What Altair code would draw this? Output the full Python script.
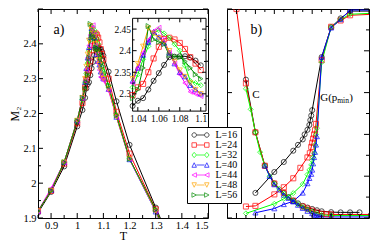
import altair as alt
import pandas as pd

FONT = "Liberation Serif"

L_LABELS = ["L=16", "L=24", "L=32", "L=40", "L=44", "L=48", "L=56"]
L_COLORS = ["#000000", "#ff0000", "#00ff00", "#0000ff", "#ff00ff", "#ffa500", "#008b00"]
L_SHAPES = ["circle", "square", "diamond", "triangle-up", "triangle-left", "triangle-down", "triangle-right"]

# ---------------- panel a) : M2 versus T ----------------
T_A = [0.85, 0.9, 0.95, 1.0, 1.02, 1.03, 1.035, 1.04, 1.045, 1.05, 1.055, 1.06, 1.065,
       1.07, 1.075, 1.08, 1.085, 1.09, 1.095, 1.1, 1.12, 1.15, 1.2, 1.3, 1.4]
M2_L16 = [1.915, 1.975, 2.048, 2.163, 2.21, 2.245, 2.272, 2.284, 2.29, 2.31, 2.33, 2.348, 2.367,
          2.385, 2.386, 2.387, 2.387, 2.384, 2.377, 2.366, 2.32, 2.235, 2.11, 1.93, 1.76]
M2_L24 = [1.92, 1.978, 2.056, 2.172, 2.23, 2.275, 2.297, 2.315, 2.323, 2.35, 2.382, 2.409, 2.427,
          2.43, 2.426, 2.418, 2.404, 2.385, 2.37, 2.355, 2.30, 2.205, 2.085, 1.925, 1.75]
M2_L32 = [1.92, 1.98, 2.06, 2.18, 2.24, 2.29, 2.315, 2.345, 2.38, 2.41, 2.44, 2.448, 2.44,
          2.43, 2.415, 2.40, 2.365, 2.33, 2.325, 2.32, 2.28, 2.195, 2.07, 1.922, 1.74]
M2_L40 = [1.92, 1.98, 2.06, 2.18, 2.245, 2.29, 2.33, 2.36, 2.39, 2.42, 2.444, 2.432, 2.418,
          2.395, 2.37, 2.35, 2.34, 2.32, 2.31, 2.30, 2.27, 2.19, 2.068, 1.918, 1.74]
M2_L44 = [1.92, 1.985, 2.06, 2.18, 2.245, 2.295, 2.325, 2.36, 2.395, 2.425, 2.445, 2.453, 2.425,
          2.395, 2.37, 2.345, 2.325, 2.305, 2.30, 2.295, 2.265, 2.19, 2.07, 1.92, 1.74]
M2_L48 = [1.92, 1.978, 2.06, 2.18, 2.245, 2.30, 2.335, 2.37, 2.41, 2.452, 2.44, 2.43, 2.42,
          2.40, 2.375, 2.355, 2.34, 2.325, 2.31, 2.30, 2.27, 2.19, 2.07, 1.92, 1.74]
M2_L56 = [1.92, 1.978, 2.06, 2.178, 2.245, 2.27, 2.29, 2.31, 2.36, 2.457, 2.426, 2.42, 2.415,
          2.39, 2.387, 2.385, 2.375, 2.36, 2.345, 2.335, 2.28, 2.195, 2.07, 1.924, 1.74]
M2_SERIES = [M2_L16, M2_L24, M2_L32, M2_L40, M2_L44, M2_L48, M2_L56]

# ---------------- panel b) : C and G(p_min) versus T ----------------
C_T16 = [0.3, 0.4, 0.5, 0.6, 0.7, 0.75, 0.8, 0.85, 0.9, 0.95, 1.0, 1.05, 1.1, 1.2, 1.3, 1.4, 1.5]
C_V16 = [0.662, 0.41, 0.25, 0.165, 0.12, 0.10, 0.083, 0.07, 0.058, 0.05, 0.043, 0.037, 0.032, 0.028, 0.027, 0.027, 0.027]
C_T24 = [0.2, 0.3, 0.4, 0.5, 0.6, 0.7, 0.8, 0.9, 0.95, 1.0, 1.05, 1.1, 1.15, 1.2, 1.65]
C_V24 = [1.0, 0.644, 0.41, 0.25, 0.165, 0.12, 0.083, 0.055, 0.045, 0.035, 0.026, 0.02, 0.018, 0.017, 0.017]
C_T32 = [0.3, 0.35, 0.4, 0.45, 0.5, 0.55, 0.6, 0.65, 0.7, 0.75, 0.8, 0.85, 0.9, 0.95, 1.0, 1.05, 1.1, 1.2, 1.65]
C_V32 = [0.618, 0.52, 0.41, 0.315, 0.25, 0.2, 0.165, 0.14, 0.118, 0.1, 0.082, 0.066, 0.052, 0.04, 0.03, 0.02, 0.015, 0.012, 0.012]
C_T40 = [0.5, 0.55, 0.6, 0.65, 0.7, 0.75, 0.8, 0.85, 0.9, 0.95, 1.0, 1.02, 1.04, 1.06, 1.08, 1.1, 1.2, 1.65]
C_V40 = [0.25, 0.2, 0.16, 0.135, 0.11, 0.095, 0.078, 0.062, 0.047, 0.033, 0.022, 0.016, 0.012, 0.009, 0.007, 0.006, 0.005, 0.005]

G_T16 = [0.4, 0.6, 0.7, 0.8, 0.85, 0.9, 0.92, 0.95, 0.97, 0.98, 0.99, 1.0, 1.1, 1.2, 1.3, 1.4, 1.65]
G_V16 = [0.12, 0.22, 0.268, 0.322, 0.35, 0.376, 0.40, 0.422, 0.445, 0.468, 0.49, 0.516, 0.77, 0.913, 0.955, 0.99, 0.99]
G_T24 = [0.3, 0.4, 0.6, 0.7, 0.8, 0.875, 0.95, 0.975, 0.99, 1.0, 1.01, 1.02, 1.03, 1.04, 1.1, 1.2, 1.3, 1.4, 1.65]
G_V24 = [0.055, 0.058, 0.113, 0.147, 0.19, 0.24, 0.29, 0.31, 0.34, 0.36, 0.38, 0.40, 0.42, 0.45, 0.755, 0.915, 0.945, 0.97, 0.975]
G_T32 = [0.3, 0.6, 0.7, 0.8, 0.9, 0.95, 0.97, 0.99, 1.0, 1.01, 1.02, 1.03, 1.04, 1.05, 1.1, 1.2, 1.3, 1.4, 1.65]
G_V32 = [0.022, 0.068, 0.092, 0.119, 0.162, 0.208, 0.23, 0.254, 0.275, 0.29, 0.31, 0.35, 0.40, 0.43, 0.745, 0.913, 0.95, 0.975, 0.98]
G_T40 = [0.4, 0.6, 0.7, 0.8, 0.9, 0.95, 0.97, 0.99, 1.0, 1.01, 1.02, 1.03, 1.04, 1.05, 1.1, 1.2, 1.3, 1.4, 1.65]
G_V40 = [0.025, 0.045, 0.065, 0.08, 0.12, 0.165, 0.19, 0.21, 0.23, 0.26, 0.29, 0.315, 0.35, 0.39, 0.77, 0.91, 0.95, 0.995, 0.995]

B_SERIES = [
    ("L=16", "C", C_T16, C_V16), ("L=24", "C", C_T24, C_V24),
    ("L=32", "C", C_T32, C_V32), ("L=40", "C", C_T40, C_V40),
    ("L=16", "G", G_T16, G_V16), ("L=24", "G", G_T24, G_V24),
    ("L=32", "G", G_T32, G_V32), ("L=40", "G", G_T40, G_V40),
]

# ---------------- axes, ticks, annotations ----------------
A_X_DOMAIN = [0.85, 1.5]
A_Y_DOMAIN = [1.9, 2.5]
A_X_LABELS = [0.9, 1.0, 1.1, 1.2, 1.3, 1.4, 1.5]
A_X_MINOR = [0.85, 0.95, 1.05, 1.15, 1.25, 1.35, 1.45]
A_Y_LABELS = [1.9, 2.0, 2.1, 2.2, 2.3, 2.4]
A_Y_MAJOR = [1.9, 2.0, 2.1, 2.2, 2.3, 2.4, 2.5]
A_Y_MINOR = [1.95, 2.05, 2.15, 2.25, 2.35, 2.45]

IN_X_DOMAIN = [1.035, 1.105]
IN_Y_DOMAIN = [2.26, 2.475]
IN_X_LABELS = [1.04, 1.06, 1.08, 1.1]
IN_X_MINOR = [1.05, 1.07, 1.09]
IN_Y_LABELS = [2.3, 2.35, 2.4, 2.45]
IN_Y_MINOR = [2.275, 2.325, 2.375, 2.425]

B_X_DOMAIN = [0.1, 1.6]
B_Y_DOMAIN = [0.0, 1.0]
B_X_LABELS = [0.2, 0.4, 0.6, 0.8, 1.0, 1.2, 1.4]
B_X_MAJOR = [0.2, 0.4, 0.6, 0.8, 1.0, 1.2, 1.4, 1.6]
B_X_MINOR = [0.3, 0.5, 0.7, 0.9, 1.1, 1.3, 1.5]
B_Y_LABELS = [0.0, 0.2, 0.4, 0.6, 0.8, 1.0]
B_Y_MINOR = [0.1, 0.3, 0.5, 0.7, 0.9]

A_NOTE_TEXT, A_NOTE_T, A_NOTE_M = ["a)"], [0.93], [2.44]
B_NOTE_TEXT, B_NOTE_T, B_NOTE_V = ["b)", "C"], [0.41, 0.405], [0.9, 0.59]
G_NOTE_T, G_NOTE_V = [1.085], [0.575]

# ---------------- layout constants ----------------
WA, WB, H = 170, 142, 209
IN_L, IN_R, IN_T, IN_B = 94.6, 168.0, 9.3, 102.1
MAJ, MIN = 5, 3


def legend_path(kind, cx=2.1, r=0.75):
    def mk(c):
        if kind == "circle":
            return f"M{c + r},0A{r},{r} 0 1,1 {c - r},0A{r},{r} 0 1,1 {c + r},0Z"
        if kind == "square":
            return f"M{c - r},{-r}L{c + r},{-r}L{c + r},{r}L{c - r},{r}Z"
        if kind == "diamond":
            return f"M{c},{-r * 1.2}L{c + r},0L{c},{r * 1.2}L{c - r},0Z"
        if kind == "triangle-up":
            return f"M{c},{-r}L{c + r},{r}L{c - r},{r}Z"
        if kind == "triangle-left":
            return f"M{c - r},0L{c + r},{-r}L{c + r},{r}Z"
        if kind == "triangle-down":
            return f"M{c - r},{-r}L{c + r},{-r}L{c},{r}Z"
        return f"M{c + r},0L{c - r},{-r}L{c - r},{r}Z"
    return f"M{-cx + r},0L{cx - r},0" + mk(-cx) + mk(cx)


LEGEND_PATHS = [legend_path(k) for k in L_SHAPES]

color_scale = alt.Scale(domain=L_LABELS, range=L_COLORS)
shape_scale = alt.Scale(domain=L_LABELS, range=L_SHAPES)

# ---------------- data frames ----------------
rows = []
for lab, vals in zip(L_LABELS, M2_SERIES):
    for t, m in zip(T_A, vals):
        rows.append({"T": t, "M2": m, "L": lab})
df_a = pd.DataFrame(rows)
df_in = df_a[(df_a["T"] >= IN_X_DOMAIN[0]) & (df_a["T"] <= IN_X_DOMAIN[1])
             & (df_a["M2"] >= IN_Y_DOMAIN[0]) & (df_a["M2"] <= IN_Y_DOMAIN[1])]

rows = []
for lab, curve, ts, vs in B_SERIES:
    for t, v in zip(ts, vs):
        rows.append({"T": t, "V": v, "L": lab, "curve": curve})
df_b = pd.DataFrame(rows)


def sx(domain, rng=None):
    if rng is None:
        return alt.Scale(domain=domain, nice=False, zero=False)
    return alt.Scale(domain=domain, range=rng, nice=False, zero=False)


def tick_layers(xmaj, xmin, ymaj, ymin, xscale, yscale, left, right, top, bottom, maj, mnr):
    out = []
    for vals, ln in ((xmaj, maj), (xmin, mnr)):
        base = alt.Chart(pd.DataFrame({"v": vals})).mark_rule(color="black", strokeWidth=1)
        out.append(base.encode(x=alt.X("v:Q", scale=xscale, axis=None),
                               y=alt.value(bottom), y2=alt.value(bottom - ln)))
        out.append(base.encode(x=alt.X("v:Q", scale=xscale, axis=None),
                               y=alt.value(top), y2=alt.value(top + ln)))
    for vals, ln in ((ymaj, maj), (ymin, mnr)):
        base = alt.Chart(pd.DataFrame({"v": vals})).mark_rule(color="black", strokeWidth=1)
        out.append(base.encode(y=alt.Y("v:Q", scale=yscale, axis=None),
                               x=alt.value(left), x2=alt.value(left + ln)))
        out.append(base.encode(y=alt.Y("v:Q", scale=yscale, axis=None),
                               x=alt.value(right), x2=alt.value(right - ln)))
    return out


# ---------------- panel a ----------------
xa, ya = sx(A_X_DOMAIN), sx(A_Y_DOMAIN)
xi, yi = sx(IN_X_DOMAIN, [IN_L, IN_R]), sx(IN_Y_DOMAIN, [IN_B, IN_T])

a_lines = alt.Chart(df_a).mark_line(strokeWidth=1, clip=True).encode(
    x=alt.X("T:Q", scale=xa, axis=alt.Axis(orient="bottom", values=A_X_LABELS, format="~g",
                                           title="T", labelPadding=2, titlePadding=0)),
    y=alt.Y("M2:Q", scale=ya, axis=alt.Axis(orient="left", values=A_Y_LABELS, format="~g",
                                            title="M\u2082", labelPadding=2, titlePadding=1)),
    color=alt.Color("L:N", scale=color_scale, legend=None),
    detail="L:N",
)
a_pts = alt.Chart(df_a).mark_point(filled=False, size=26, strokeWidth=1, clip=True).encode(
    x=alt.X("T:Q", scale=xa, axis=None),
    y=alt.Y("M2:Q", scale=ya, axis=None),
    color=alt.Color("L:N", scale=color_scale, legend=None),
    shape=alt.Shape("L:N", scale=shape_scale, legend=None),
)
a_note = alt.Chart(pd.DataFrame({"text": A_NOTE_TEXT, "T": A_NOTE_T, "M2": A_NOTE_M})).mark_text(
    font=FONT, fontSize=14, color="black").encode(
    x=alt.X("T:Q", scale=xa, axis=None), y=alt.Y("M2:Q", scale=ya, axis=None), text="text:N")

in_box = alt.Chart(pd.DataFrame({"x0": [IN_X_DOMAIN[0]], "x1": [IN_X_DOMAIN[1]],
                                 "y0": [IN_Y_DOMAIN[0]], "y1": [IN_Y_DOMAIN[1]]})).mark_rect(
    fill="white", stroke="black", strokeWidth=1).encode(
    x=alt.X("x0:Q", scale=xi, axis=None), x2="x1:Q",
    y=alt.Y("y0:Q", scale=yi, axis=None), y2="y1:Q")
in_lines = alt.Chart(df_in).mark_line(strokeWidth=1).encode(
    x=alt.X("T:Q", scale=xi, axis=alt.Axis(orient="bottom", offset=-(H - IN_B), values=IN_X_LABELS,
                                           format="~g", labelFontSize=9.5, labelPadding=2, title=None)),
    y=alt.Y("M2:Q", scale=yi, axis=alt.Axis(orient="left", offset=-IN_L, values=IN_Y_LABELS,
                                            format="~g", labelFontSize=9.5, labelPadding=2, title=None)),
    color=alt.Color("L:N", scale=color_scale, legend=None),
    detail="L:N",
)
in_pts = alt.Chart(df_in).mark_point(filled=False, size=26, strokeWidth=1).encode(
    x=alt.X("T:Q", scale=xi, axis=None),
    y=alt.Y("M2:Q", scale=yi, axis=None),
    color=alt.Color("L:N", scale=color_scale, legend=None),
    shape=alt.Shape("L:N", scale=shape_scale, legend=None),
)

panel_a = alt.layer(
    a_lines, a_pts, a_note,
    *tick_layers(A_X_LABELS, A_X_MINOR, A_Y_MAJOR, A_Y_MINOR, xa, ya, 0, WA, 0, H, MAJ, MIN),
    in_box, in_lines, in_pts,
    *tick_layers(IN_X_LABELS, IN_X_MINOR, IN_Y_LABELS, IN_Y_MINOR, xi, yi, IN_L, IN_R, IN_T, IN_B, 4, 2),
).resolve_scale(x="independent", y="independent", color="independent", shape="independent"
                ).properties(width=WA, height=H)

# ---------------- panel b ----------------
xb, yb = sx(B_X_DOMAIN), sx(B_Y_DOMAIN)

b_lines = alt.Chart(df_b).mark_line(strokeWidth=1, clip=True).encode(
    x=alt.X("T:Q", scale=xb, axis=alt.Axis(orient="bottom", values=B_X_LABELS, format="~g",
                                           title="T", labelPadding=2, titlePadding=0)),
    y=alt.Y("V:Q", scale=yb, axis=alt.Axis(orient="right", values=B_Y_LABELS, format="~g",
                                           title=None, labelPadding=3)),
    color=alt.Color("L:N", scale=color_scale, legend=None),
    detail="curve:N",
)
b_pts = alt.Chart(df_b).mark_point(filled=False, size=26, strokeWidth=1, clip=True).encode(
    x=alt.X("T:Q", scale=xb, axis=None),
    y=alt.Y("V:Q", scale=yb, axis=None),
    color=alt.Color("L:N", scale=color_scale, legend=None),
    shape=alt.Shape("L:N", scale=shape_scale, legend=None),
)
b_note = alt.Chart(pd.DataFrame({"text": B_NOTE_TEXT, "T": B_NOTE_T, "V": B_NOTE_V})).mark_text(
    font=FONT, color="black").encode(
    x=alt.X("T:Q", scale=xb, axis=None), y=alt.Y("V:Q", scale=yb, axis=None), text="text:N",
    size=alt.condition(alt.datum.text == "C", alt.value(11), alt.value(14)))
g_df = pd.DataFrame({"T": G_NOTE_T, "V": G_NOTE_V})
g_main = alt.Chart(g_df).mark_text(font=FONT, fontSize=11, align="left", color="black", text="G(p").encode(
    x=alt.X("T:Q", scale=xb, axis=None), y=alt.Y("V:Q", scale=yb, axis=None))
g_sub = alt.Chart(g_df).mark_text(font=FONT, fontSize=7.5, align="left", color="black", text="min",
                                  dx=17, dy=3).encode(
    x=alt.X("T:Q", scale=xb, axis=None), y=alt.Y("V:Q", scale=yb, axis=None))
g_end = alt.Chart(g_df).mark_text(font=FONT, fontSize=11, align="left", color="black", text=")",
                                  dx=29).encode(
    x=alt.X("T:Q", scale=xb, axis=None), y=alt.Y("V:Q", scale=yb, axis=None))

leg = alt.Legend(title=None, orient="none", legendX=-40, legendY=118, fillColor="white",
                 strokeColor="black", padding=3, cornerRadius=0, labelFont=FONT, labelFontSize=10,
                 labelColor="black", labelOffset=10, symbolOffset=5.5, rowPadding=0,
                 symbolSize=36, symbolStrokeWidth=1)
legend_layer = alt.Chart(pd.DataFrame({"L": L_LABELS})).transform_filter("false").mark_point(
    filled=False, size=36, strokeWidth=1).encode(
    color=alt.Color("L:N", scale=color_scale, legend=leg),
    shape=alt.Shape("L:N", scale=alt.Scale(domain=L_LABELS, range=LEGEND_PATHS), legend=leg),
)

panel_b = alt.layer(
    b_lines, b_pts, b_note, g_main, g_sub, g_end,
    *tick_layers(B_X_MAJOR, B_X_MINOR, B_Y_LABELS, B_Y_MINOR, xb, yb, 0, WB, 0, H, MAJ, MIN),
    legend_layer,
).resolve_scale(color="independent", shape="independent").properties(width=WB, height=H)

chart = alt.hconcat(panel_a, panel_b, spacing=19, bounds="flush").resolve_scale(
    color="independent", shape="independent"
).properties(padding=0).configure_view(stroke="black", strokeWidth=1).configure_axis(
    labelFont=FONT, titleFont=FONT, labelFontSize=10.5, titleFontSize=12, titleFontWeight="normal",
    labelColor="black", titleColor="black", ticks=False, domain=False, grid=False,
)

chart.save("out.html", embed_options={"renderer": "svg", "actions": False})
